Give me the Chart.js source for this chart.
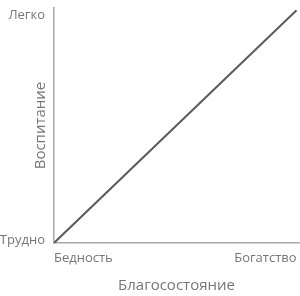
<!DOCTYPE html>
<html>
<head>
<meta charset="utf-8">
<script src="https://cdn.jsdelivr.net/npm/chart.js@4"></script>
<style>
  html, body { margin: 0; padding: 0; background: #fff; }
  #wrap { width: 300px; height: 296px; }
</style>
</head>
<body>
<div id="wrap"><canvas id="chart"></canvas></div>
<script>
// wealth (x) vs ease of upbringing (y), both on a 0..1 scale
const lineX = [0, 1];
const lineY = [0, 1];

const xTickValues = [0, 1];
const xTickLabels = ['Бедность', 'Богатство'];
const yTickValues = [0.01, 0.98];
const yTickLabels = ['Трудно', 'Легко'];

const xTitle = 'Благосостояние';
const yTitle = 'Воспитание';

const textColor = '#767676';
const axisColor = '#a8a8a8';
const fontFamily = '"Open Sans", "Noto Sans", sans-serif';

const ctx = document.getElementById('chart').getContext('2d');

new Chart(ctx, {
    type: 'line',
    data: {
        datasets: [{
            data: lineX.map((x, i) => ({ x: x, y: lineY[i] })),
            borderColor: '#5b5b5b',
            borderWidth: 2,
            pointRadius: 0,
            tension: 0
        }]
    },
    options: {
        responsive: true,
        maintainAspectRatio: false,
        animation: false,
        layout: { padding: { top: 8, right: 1, left: 0, bottom: 0 } },
        scales: {
            x: {
                type: 'linear',
                min: 0,
                max: 1.01,
                grid: { display: false, drawTicks: false },
                border: { display: true, color: axisColor, width: 1.5 },
                ticks: {
                    color: textColor,
                    font: { family: fontFamily, size: 13 },
                    padding: 7,
                    align: 'inner',
                    maxRotation: 0,
                    callback: (v, i) => xTickLabels[i]
                },
                afterBuildTicks: scale => {
                    scale.ticks = xTickValues.map(v => ({ value: v }));
                },
                afterFit: scale => {
                    scale.height = 53;
                    scale.paddingLeft = 0;
                    scale.paddingRight = 0;
                },
                title: {
                    display: true,
                    text: xTitle,
                    color: textColor,
                    font: { family: fontFamily, size: 15 },
                    padding: { top: 0, bottom: 1 }
                }
            },
            y: {
                type: 'linear',
                min: 0,
                max: 1.01,
                grid: { display: false, drawTicks: false },
                border: { display: true, color: axisColor, width: 1.5 },
                ticks: {
                    color: textColor,
                    font: { family: fontFamily, size: 13 },
                    padding: 9,
                    callback: (v, i) => yTickLabels[i]
                },
                afterBuildTicks: scale => {
                    scale.ticks = yTickValues.map(v => ({ value: v }));
                },
                afterFit: scale => {
                    scale.width = 54;
                    scale.paddingTop = 0;
                    scale.paddingBottom = 0;
                },
                title: {
                    display: true,
                    text: yTitle,
                    color: textColor,
                    font: { family: fontFamily, size: 15 },
                    padding: { top: 32, bottom: 0 }
                }
            }
        },
        plugins: {
            legend: { display: false },
            tooltip: { enabled: false }
        }
    }
});
</script>
</body>
</html>
